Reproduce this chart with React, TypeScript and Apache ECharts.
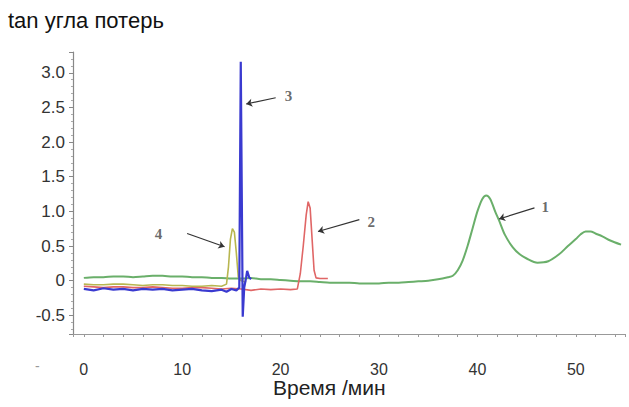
import React, { useEffect, useRef } from "react";
import * as echarts from "echarts";

// [time (min), tan of loss angle]
const series1Green: [number, number][] = [
  [0, 0.04], [1, 0.05], [2, 0.05], [3, 0.06], [4, 0.06], [5, 0.05], [6, 0.06], [7, 0.07], [8, 0.07], [9, 0.06],
  [10, 0.06], [11, 0.05], [12, 0.05], [13, 0.04], [14, 0.04], [15, 0.03], [16, 0.03], [17, 0.04], [18, 0.02],
  [19, 0.02], [20, 0.01], [21, 0.0], [22, -0.01], [23, -0.01], [24, -0.02], [25, -0.03], [26, -0.03], [27, -0.03],
  [28, -0.04], [29, -0.04], [30, -0.04], [31, -0.03], [32, -0.03], [33, -0.02], [34, -0.01], [35, 0.0],
  [36, 0.02], [37, 0.05], [37.5, 0.07], [38, 0.15], [38.5, 0.29], [39, 0.5], [39.5, 0.75], [40, 1.0],
  [40.5, 1.18], [40.9, 1.23], [41.3, 1.18], [41.8, 1.0], [42.2, 0.87], [42.8, 0.66], [43.6, 0.48], [44.3, 0.38],
  [45.0, 0.32], [46.1, 0.26], [47.2, 0.28], [48.3, 0.38], [49.2, 0.5], [50.0, 0.6], [50.5, 0.67], [51.0, 0.71],
  [51.5, 0.71], [52.0, 0.68], [52.7, 0.64], [53.5, 0.58], [54.6, 0.52],
];

const series2Red: [number, number][] = [
  [0, -0.08], [1, -0.09], [2, -0.1], [3, -0.09], [4, -0.09], [5, -0.1], [6, -0.1], [7, -0.09], [8, -0.1],
  [9, -0.11], [10, -0.11], [11, -0.1], [12, -0.1], [13, -0.11], [14, -0.12], [15, -0.11], [16, -0.12],
  [17, -0.14], [18, -0.12], [19, -0.13], [20, -0.12], [21, -0.13], [21.7, -0.12], [22.0, 0.1], [22.3, 0.5],
  [22.6, 0.95], [22.8, 1.14], [23.0, 1.05], [23.2, 0.6], [23.4, 0.15], [23.6, 0.04], [24, 0.03], [24.8, 0.03],
];

const series3Blue: [number, number][] = [
  [0, -0.12], [1, -0.14], [2, -0.11], [3, -0.13], [4, -0.12], [5, -0.14], [6, -0.12], [7, -0.13], [8, -0.12],
  [9, -0.14], [10, -0.13], [11, -0.12], [12, -0.14], [13, -0.15], [14, -0.13], [14.5, -0.16], [15, -0.12],
  [15.5, -0.14], [15.8, -0.1], [15.95, 3.16], [16.15, -0.52], [16.3, -0.1], [16.5, 0.05], [16.6, 0.14],
  [16.8, 0.05], [17.0, 0.02],
];

const series4Yellow: [number, number][] = [
  [0, -0.05], [1, -0.06], [2, -0.06], [3, -0.05], [4, -0.05], [5, -0.06], [6, -0.07], [7, -0.06], [8, -0.06],
  [9, -0.07], [10, -0.07], [11, -0.08], [12, -0.08], [13, -0.07], [14, -0.08], [14.5, -0.05], [14.7, 0.2],
  [14.9, 0.6], [15.1, 0.75], [15.3, 0.7], [15.5, 0.4], [15.7, 0.05], [16, 0.0], [16.5, -0.02],
];

const peakLabels = ["1", "2", "3", "4"];
// arrow start (near label) and arrow end (near peak), data coordinates
const arrowStarts: [number, number][] = [[45.8, 1.05], [28.0, 0.88], [19.5, 2.64], [10.5, 0.68]];
const arrowEnds: [number, number][] = [[42.2, 0.89], [23.8, 0.71], [16.5, 2.55], [14.3, 0.49]];
const labelPositions: [number, number][] = [[46.9, 1.07], [29.2, 0.85], [20.8, 2.67], [7.6, 0.68]];

const xTicks = [0, 10, 20, 30, 40, 50];
const titleText = "tan угла потерь";
const xAxisName = "Время /мин";

export default function App() {
  const ref = useRef<HTMLDivElement>(null);
  useEffect(() => {
    if (!ref.current) return;
    const chart = echarts.init(ref.current, null, { renderer: "svg" });
    const yFmt = (v: number) => {
      const r = Math.round(v * 2) / 2;
      if (Math.abs(v - r) > 1e-6) return "";
      if (r < -0.5 || r > 3.0) return "";
      return r === 0 ? "0" : r.toFixed(1);
    };
    const xFmt = (v: number) =>
      xTicks.includes(Math.round(v)) && Math.abs(v - Math.round(v)) < 1e-6 ? String(Math.round(v)) : "";
    chart.setOption({
      animation: false,
      grid: { left: 73, right: 4, top: 52, bottom: 73, containLabel: false },
      xAxis: {
        type: "value",
        min: -1.1,
        max: 55,
        splitNumber: 6,
        axisLine: { onZero: false, lineStyle: { color: "#999", width: 1.2 } },
        axisTick: { show: true, length: 3, lineStyle: { color: "#999" } },
        minorTick: { show: true, splitNumber: 5, length: 3, lineStyle: { color: "#999" } },
        axisLabel: {
          margin: 27,
          formatter: xFmt,
          showMinLabel: false,
          showMaxLabel: false,
          fontFamily: "Liberation Sans, Arial",
          fontSize: 16,
          color: "#333",
        },
        splitLine: { show: false },
      },
      yAxis: {
        type: "value",
        min: -0.77,
        max: 3.3,
        splitNumber: 8,
        axisLine: { show: true, onZero: false, lineStyle: { color: "#888", width: 1.2 } },
        axisTick: { show: true, length: 4, lineStyle: { color: "#888" } },
        minorTick: { show: true, splitNumber: 5, length: 2, lineStyle: { color: "#aaa" } },
        axisLabel: {
          margin: 8,
          formatter: yFmt,
          showMinLabel: false,
          showMaxLabel: false,
          fontFamily: "Liberation Sans, Arial",
          fontSize: 17,
          color: "#333",
        },
        splitLine: { show: false },
      },
      series: [
        {
          type: "line",
          name: "1",
          data: series1Green,
          showSymbol: false,
          smooth: 0.3,
          lineStyle: { color: "#6aaf6a", width: 2 },
          markLine: {
            silent: true,
            symbol: ["none", "arrow"],
            symbolSize: 6,
            label: { show: false },
            lineStyle: { color: "#333", width: 1.2, type: "solid" },
            data: arrowStarts.map((s, i) => [{ coord: s }, { coord: arrowEnds[i] }]),
          },
        },
        {
          type: "line",
          name: "2",
          data: series2Red,
          showSymbol: false,
          lineStyle: { color: "#e06666", width: 1.6 },
        },
        {
          type: "line",
          name: "4",
          data: series4Yellow,
          showSymbol: false,
          lineStyle: { color: "#b8b650", width: 1.6 },
        },
        {
          type: "line",
          name: "3",
          data: series3Blue,
          showSymbol: false,
          lineStyle: { color: "#3a3ad0", width: 2.2 },
        },
        {
          type: "scatter",
          name: "labels",
          data: labelPositions.map((p, i) => ({ value: p, name: peakLabels[i] })),
          symbolSize: 1,
          itemStyle: { color: "rgba(0,0,0,0)" },
          label: {
            show: true,
            position: "inside",
            formatter: (p: any) => p.name,
            fontFamily: "Liberation Serif, serif",
            fontSize: 15,
            fontWeight: "bold",
            color: "#444",
          },
        },
      ],
      graphic: [
        {
          type: "text",
          left: 8,
          top: 9,
          style: {
            text: titleText,
            fontSize: 22,
            fill: "#111",
            fontFamily: "Liberation Sans, Arial",
          },
        },
        {
          type: "text",
          left: 273,
          top: 377,
          style: {
            text: xAxisName,
            fontSize: 21,
            fill: "#222",
            fontFamily: "Liberation Sans, Arial",
          },
        },
        {
          type: "text",
          left: 35,
          top: 359,
          style: { text: "-", fontSize: 14, fill: "#999", fontFamily: "Liberation Sans, Arial" },
        },
      ],
    });
    return () => chart.dispose();
  }, []);
  return (
    <div
      ref={ref}
      style={{ width: 629, height: 407, position: "absolute", left: 0, top: 0, background: "#fff" }}
    />
  );
}
